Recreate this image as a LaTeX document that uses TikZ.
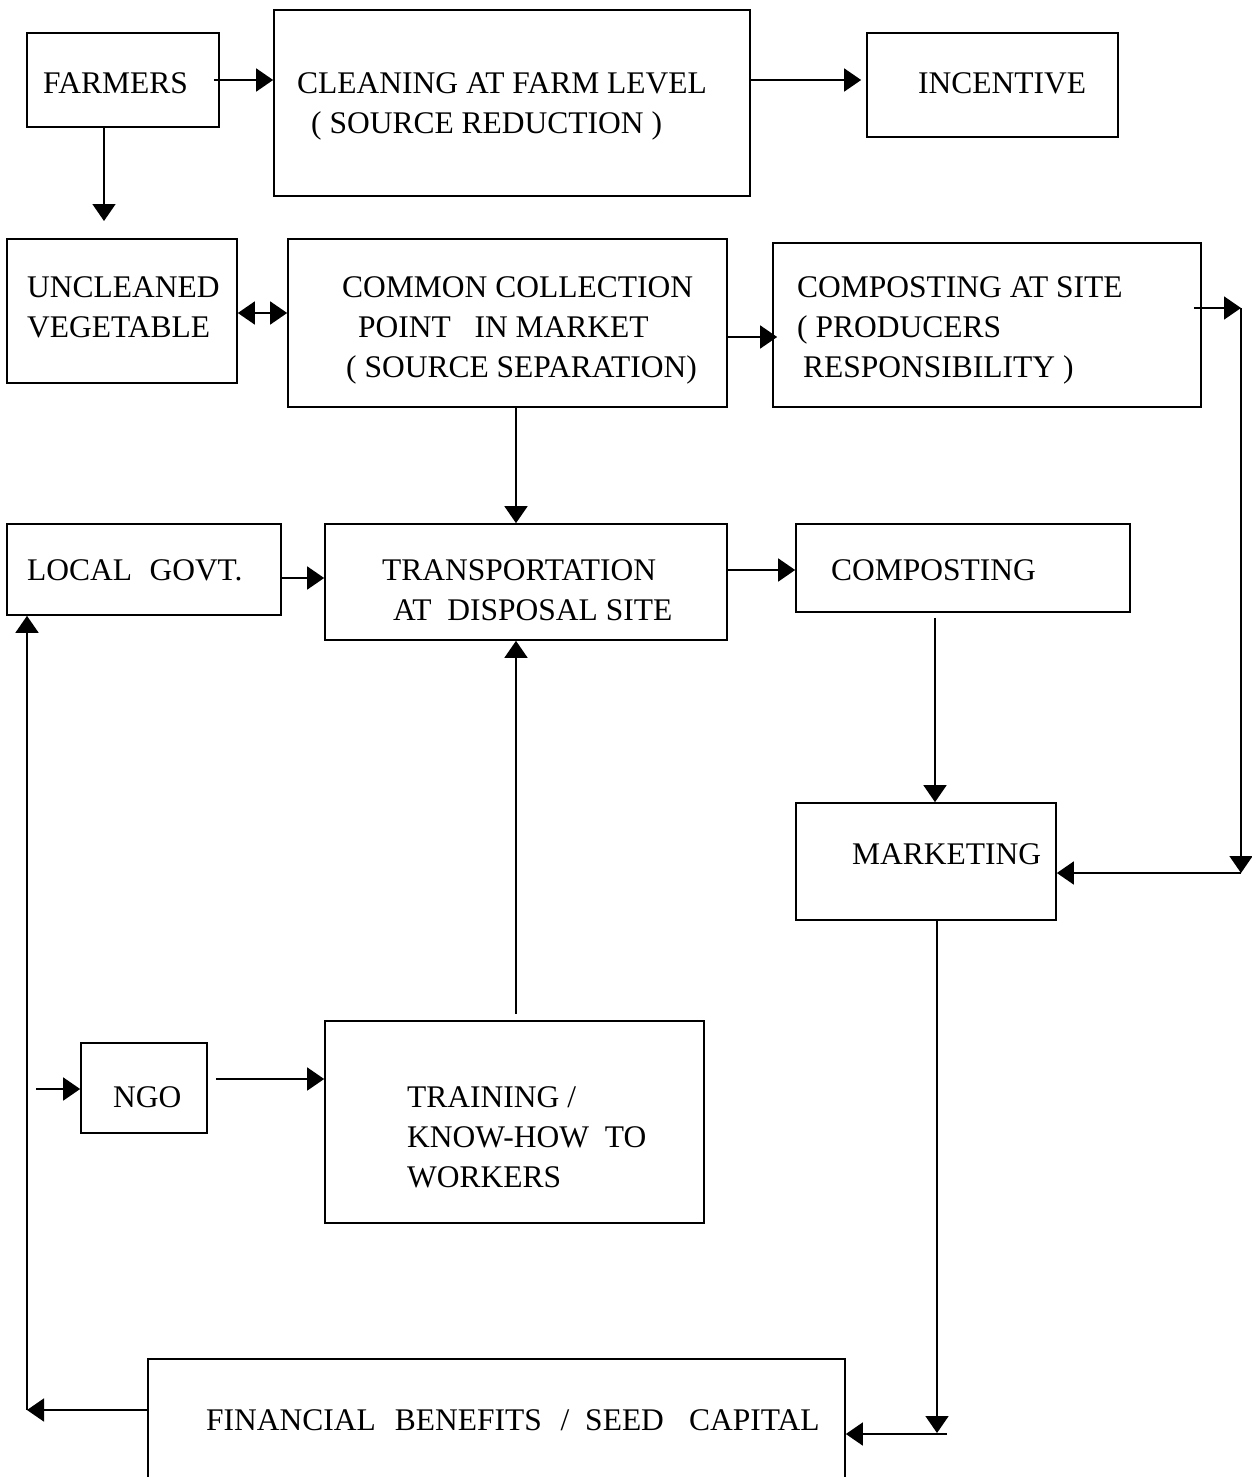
\documentclass[tikz,border=0pt]{standalone}
\usepackage{fontspec}
\setmainfont{Liberation Serif}
\usetikzlibrary{arrows.meta}
\begin{document}
\begin{tikzpicture}[x=1pt,y=-1pt,
  box/.style={draw, line width=1.7pt, inner sep=0pt},
  txt/.style={anchor=base west, inner sep=0pt, font=\fontsize{31.5}{40}\selectfont},
  arr/.style={line width=1.7pt, -{Triangle[length=17pt,width=23pt]}},
  arrb/.style={line width=1.7pt, {Triangle[length=17pt,width=23pt]}-{Triangle[length=17pt,width=23pt]}},
  line join=miter]
\useasboundingbox (0,0) rectangle (1251,1477);
% boxes
\node[box, minimum width=192pt, minimum height=94pt] (farmers) at (123,80) {};
\node[box, minimum width=476pt, minimum height=186pt] (cleaning) at (512,103) {};
\node[box, minimum width=251pt, minimum height=104pt] (incentive) at (992.5,85) {};
\node[box, minimum width=230pt, minimum height=144pt] (unclean) at (122,311) {};
\node[box, minimum width=439pt, minimum height=168pt] (common) at (507.5,323) {};
\node[box, minimum width=428pt, minimum height=164pt] (compsite) at (987,325) {};
\node[box, minimum width=274pt, minimum height=91pt] (localgovt) at (144,569.5) {};
\node[box, minimum width=402pt, minimum height=116pt] (transport) at (526,582) {};
\node[box, minimum width=334pt, minimum height=88pt] (composting) at (963,568) {};
\node[box, minimum width=260pt, minimum height=117pt] (marketing) at (926,861.5) {};
\node[box, minimum width=126pt, minimum height=90pt] (ngo) at (144,1088) {};
\node[box, minimum width=379pt, minimum height=202pt] (training) at (514.5,1122) {};
\node[box, minimum width=697pt, minimum height=160pt] (financial) at (496.5,1439) {};
% texts
\node[txt] (tfarmers) at (43,94) {FARMERS};
\node[txt] (tclean1) at (297,94) {CLEANING AT FARM LEVEL};
\node[txt] (tclean2) at (311,134) {( SOURCE REDUCTION )};
\node[txt] (tincent) at (918,94) {INCENTIVE};
\node[txt] (tunc1) at (27,297) {UNCLEANED};
\node[txt] (tunc2) at (27,337) {VEGETABLE};
\node[txt] (tcom1) at (342,297) {COMMON COLLECTION};
\node[txt] (tcom2) at (358,337) {POINT\hspace{0.75em}IN MARKET};
\node[txt] (tcom3) at (346,377) {( SOURCE SEPARATION)};
\node[txt] (tcs1) at (797,297) {COMPOSTING AT SITE};
\node[txt] (tcs2) at (797,337) {( PRODUCERS};
\node[txt] (tcs3) at (803,377) {RESPONSIBILITY )};
\node[txt] (tlg) at (27,580) {LOCAL\hspace{0.55em}GOVT.};
\node[txt] (ttr1) at (382,580) {TRANSPORTATION};
\node[txt] (ttr2) at (393,620) {AT\hspace{0.5em}DISPOSAL SITE};
\node[txt] (tcomp) at (831,580) {COMPOSTING};
\node[txt] (tmark) at (852,864) {MARKETING};
\node[txt] (tngo) at (113,1107) {NGO};
\node[txt] (ttra1) at (407,1107) {TRAINING /};
\node[txt] (ttra2) at (407,1147) {KNOW-HOW\hspace{0.5em}TO};
\node[txt] (ttra3) at (407,1187) {WORKERS};
\node[txt] (tfin) at (206,1430) {FINANCIAL\hspace{0.6em}BENEFITS\hspace{0.6em}/\hspace{0.5em}SEED\hspace{0.8em}CAPITAL};
% coordinates
\coordinate (fdown) at (104,221);
\coordinate (rc1) at (1241,308);
\coordinate (rc2) at (1241,873);
\coordinate (mb) at (937,1433);
\coordinate (mb2) at (947,1434);
\coordinate (lc) at (27,1410);
\coordinate (ngoin) at (36,1089);
% connectors
\draw[arr] ([xshift=-6pt]farmers.east) -- (farmers.east -| cleaning.west);
\draw[arr] (fdown |- farmers.south) -- (fdown);
\draw[arr] (cleaning.east |- 0,80) -- ([xshift=-5pt]incentive.west |- 0,80);
\draw[arrb] (unclean.east |- 0,313) -- (common.west |- 0,313);
\draw[arr] (common.east |- 0,337) -- ([xshift=5pt]compsite.west |- 0,337);
\draw[arr] ([xshift=-8pt]compsite.east |- rc1) -- (rc1);
\draw[arr] (rc1) -- (rc2);
\draw[arr] (rc2) -- (rc2 -| marketing.east);
\draw[arr] (common.south -| 516,0) -- (transport.north -| 516,0);
\draw[arr] (localgovt.east |- 0,578) -- (transport.west |- 0,578);
\draw[arr] (transport.east |- 0,570) -- (composting.west |- 0,570);
\draw[arr] ([yshift=-5pt]composting.south -| 935,0) -- (marketing.north -| 935,0);
\draw[arr] ([yshift=6pt]training.north -| 516,0) -- (transport.south -| 516,0);
\draw[arr] ([xshift=8pt]ngo.east |- 0,1079) -- (training.west |- 0,1079);
\draw[arr] (ngoin) -- (ngoin -| ngo.west);
\draw[arr] (marketing.south -| mb) -- (mb);
\draw[arr] (mb2) -- (mb2 -| financial.east);
\draw[arr] (financial.west |- lc) -- (lc);
\draw[arr] (lc) -- (lc |- localgovt.south);
\end{tikzpicture}
\end{document}
